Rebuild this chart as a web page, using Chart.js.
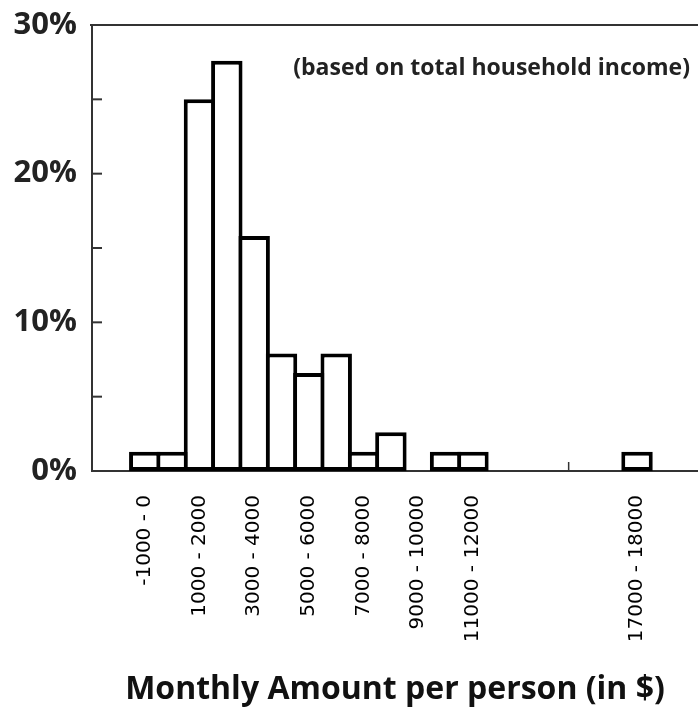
<!DOCTYPE html>
<html>
<head>
<meta charset="utf-8">
<title>Monthly Amount per person</title>
<script src="https://cdn.jsdelivr.net/npm/chart.js@4.4.0/dist/chart.umd.min.js"></script>
<style>
  body { margin: 0; background: #fff; }
</style>
</head>
<body>
<canvas id="histChart" width="698" height="709"></canvas>
<script>
// each bin is 1000 wide, listed by its lower edge
var binStarts = [-1000, 0, 1000, 2000, 3000, 4000, 5000, 6000, 7000, 8000, 9000,
  10000, 11000, 12000, 13000, 14000, 15000, 16000, 17000];
var percentValues = [1.3, 1.3, 25.0, 27.6, 15.8, 7.9, 6.6, 7.9, 1.3, 2.6, 0,
  1.3, 1.3, 0, 0, 0, 0, 0, 1.3];
var labeledBins = [-1000, 1000, 3000, 5000, 7000, 9000, 11000, 17000];
var xMarks = [0, 5000, 10000, 15000];
var yLabels = [0, 10, 20, 30];
var yMarks = [5, 10, 15, 20, 25];
var binWidth = 1000;
var noteText = "(based on total household income)";

var histData = binStarts.map(function (start, i) {
  return { x: start + binWidth / 2, y: percentValues[i] };
});

// top frame line, inward tick marks and the note
var frameTicks = {
  id: "frameTicks",
  beforeDatasetsDraw: function (chart) {
    var ctx = chart.ctx;
    var area = chart.chartArea;
    var xs = chart.scales.x;
    var ys = chart.scales.y;
    ctx.save();
    ctx.strokeStyle = "#333";
    ctx.lineWidth = 2;
    ctx.beginPath();
    ctx.moveTo(area.left - 2, area.top);
    ctx.lineTo(area.right, area.top);
    ctx.stroke();
    yMarks.forEach(function (v) {
      var y = ys.getPixelForValue(v);
      ctx.beginPath();
      ctx.moveTo(area.left, y);
      ctx.lineTo(area.left + 10, y);
      ctx.stroke();
    });
    ctx.lineWidth = 1.5;
    xMarks.forEach(function (v) {
      var x = xs.getPixelForValue(v);
      ctx.beginPath();
      ctx.moveTo(x, area.bottom);
      ctx.lineTo(x, area.bottom - 9);
      ctx.stroke();
    });
    ctx.fillStyle = "#222";
    ctx.font = "bold 23px 'Open Sans'";
    ctx.textAlign = "right";
    ctx.textBaseline = "middle";
    ctx.fillText(noteText, area.right - 8, ys.getPixelForValue(27.1));
    ctx.restore();
  },
};

var ctx = document.getElementById("histChart").getContext("2d");
var histChart = new Chart(ctx, {
  type: "bar",
  data: {
    datasets: [
      {
        data: histData,
        backgroundColor: "#fff",
        borderColor: "#000",
        borderWidth: 4,
        borderSkipped: false,
        barPercentage: 1.15, // bars overlap so shared edges are one line
        categoryPercentage: 1,
      },
    ],
  },
  options: {
    responsive: false,
    animation: false,
    layout: {
      padding: { top: 25, right: 0, bottom: 0, left: 0 },
    },
    plugins: {
      legend: { display: false },
      tooltip: { enabled: false },
    },
    scales: {
      x: {
        type: "linear",
        min: -2430,
        max: 19730,
        offset: false,
        grid: { display: false, drawTicks: false },
        border: { display: true, color: "#333", width: 2 },
        afterBuildTicks: function (scale) {
          scale.ticks = labeledBins.map(function (b) {
            return { value: b + binWidth / 2 };
          });
        },
        ticks: {
          autoSkip: false,
          minRotation: 90,
          maxRotation: 90,
          padding: 24,
          color: "#000",
          font: { family: "'DejaVu Sans'", size: 20 },
          callback: function (value) {
            var lo = value - binWidth / 2;
            return lo + " - " + (lo + binWidth);
          },
        },
        title: {
          display: true,
          text: "Monthly Amount per person (in $)",
          color: "#111",
          font: { family: "'Open Sans'", size: 32, weight: "bold" },
          padding: { top: 0, bottom: 0 },
        },
        afterFit: function (scale) {
          scale.height = 238;
        },
      },
      y: {
        min: 0,
        max: 30,
        grid: { display: false, drawTicks: false },
        border: { display: true, color: "#333", width: 2 },
        afterBuildTicks: function (scale) {
          scale.ticks = yLabels.map(function (v) {
            return { value: v };
          });
        },
        ticks: {
          padding: 15,
          color: "#222",
          font: { family: "'Open Sans'", size: 31, weight: "bold" },
          callback: function (value) {
            return value + "%";
          },
        },
        afterFit: function (scale) {
          scale.width = 92;
          scale.paddingTop = 0;
          scale.paddingBottom = 0;
        },
      },
    },
  },
  plugins: [frameTicks],
});
</script>
</body>
</html>
